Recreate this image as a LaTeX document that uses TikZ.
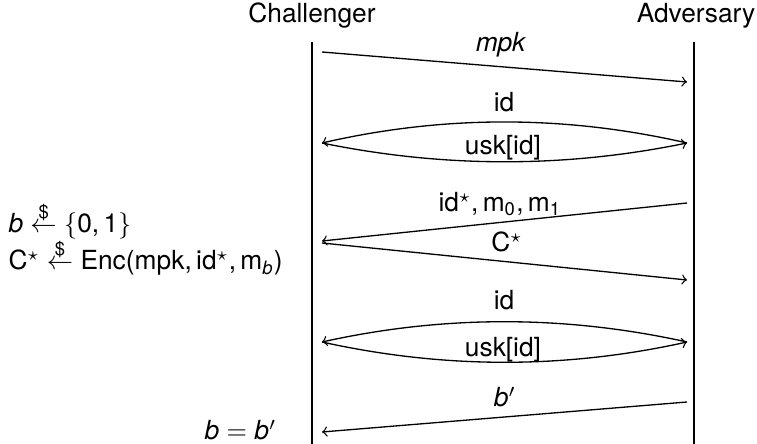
\documentclass[tikz,border=0pt]{standalone}
\usepackage{fontspec}
\setmainfont{TeX Gyre Heros}
\newcommand{\rnd}{\ensuremath{{}\stackrel{\mbox{\scriptsize\$}}{\leftarrow}{}}}
\newcommand{\mystar}{\ensuremath{^\star}}
\newcommand{\cm}{,\,}
\begin{document}
\begin{tikzpicture}[x=0.38pt,y=-0.38pt,
  lifeline/.style={line width=0.5pt},
  msg/.style={line width=0.5pt,->},
  lbl/.style={inner sep=0pt,anchor=base},
  party/.style={inner sep=0pt,anchor=base}]
\useasboundingbox (0,0) rectangle (757,444);
% parties and lifelines
\node[party] (chal) at (312,23) {Challenger};
\node[party] (adv) at (696,23) {Adversary};
\coordinate (ctop) at (312,42); \coordinate (cbot) at (312,444);
\coordinate (atop) at (694,42); \coordinate (abot) at (694,444);
\draw[lifeline] (ctop) -- (cbot);
\draw[lifeline] (atop) -- (abot);
% master public key
\coordinate (c1) at (322,52); \coordinate (a1) at (687,82);
\draw[msg] (c1) -- (a1);
\node[lbl] (l1) at (501,52) {\textit{mpk}};
% first key query
\coordinate (c2) at (322,143); \coordinate (a2) at (687,143);
\draw[msg] (a2) .. controls (565,115) and (444,115) .. (c2);
\draw[msg] (c2) .. controls (444,168) and (565,168) .. (a2);
\node[lbl] (l2a) at (504,112) {id};
\node[lbl] (l2b) at (503,155) {usk[id]};
% challenge
\coordinate (a3) at (687,203); \coordinate (c3) at (322,241);
\draw[msg] (a3) -- (c3);
\node[lbl] (l3a) at (500,212) {id\mystar\cm m\textsubscript{0}\cm m\textsubscript{1}};
\coordinate (c4) at (322,243); \coordinate (a4) at (687,280);
\draw[msg] (c4) -- (a4);
\node[lbl] (l3b) at (507,252) {C\mystar};
\node[lbl,anchor=base west] (s1) at (8,233) {\textit{b}\rnd$\{$0\cm 1$\}$};
\node[lbl,anchor=base west] (s2) at (8,270) {C\mystar\rnd Enc(mpk\cm id\mystar\cm m\textsubscript{\textit{b}})};
% second key query
\coordinate (c5) at (322,342); \coordinate (a5) at (687,342);
\draw[msg] (a5) .. controls (565,315) and (444,315) .. (c5);
\draw[msg] (c5) .. controls (444,369) and (565,369) .. (a5);
\node[lbl] (l5a) at (504,310) {id};
\node[lbl] (l5b) at (503,357) {usk[id]};
% guess
\coordinate (a6) at (687,402); \coordinate (c6) at (322,432);
\draw[msg] (a6) -- (c6);
\node[lbl] (l6) at (505,407) {\textit{b}$'$};
\node[lbl,anchor=base east] (res) at (277,440) {\textit{b}${}={}$\textit{b}$'$};
\end{tikzpicture}
\end{document}
